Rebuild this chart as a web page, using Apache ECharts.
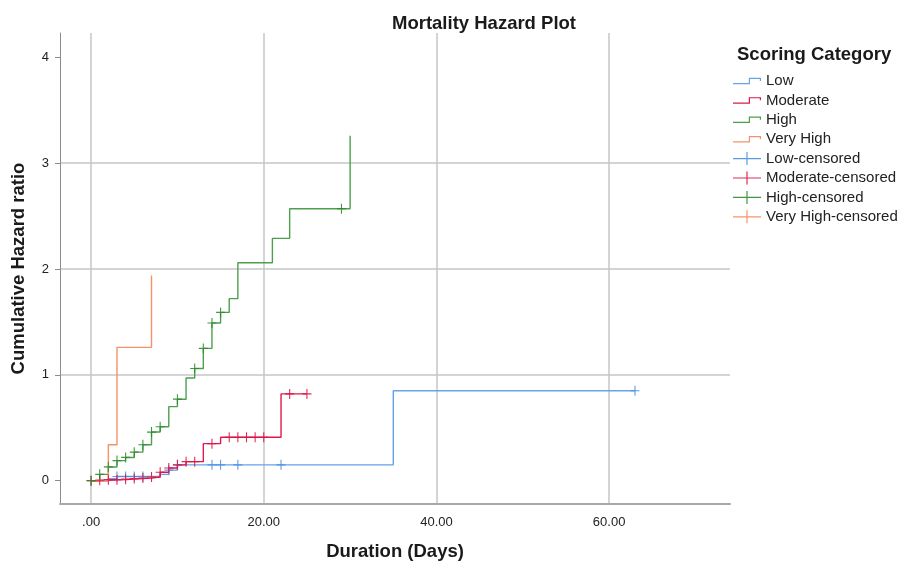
<!DOCTYPE html>
<html><head><meta charset="utf-8">
<script src="https://cdn.jsdelivr.net/npm/echarts@6/dist/echarts.min.js"></script>
<style>html,body{margin:0;padding:0;background:#fff}#c{width:899px;height:563px}</style>
</head><body><div id="c"></div>
<script>
// ---- data ----
const categories = ['Low', 'Moderate', 'High', 'Very High'];
const xTickValues = [0, 20, 40, 60];
const xTickLabels = ['.00', '20.00', '40.00', '60.00'];
const yTickValues = [0, 1, 2, 3, 4];
const yTickLabels = ['0', '1', '2', '3', '4'];

// step curves: [duration, cumulative hazard]
const lowSteps = [[0,0],[2,0.02],[3,0.04],[8,0.06],[9,0.10],[10,0.15],[35,0.85],[63,0.85]];
const moderateSteps = [[0,0],[1,0.005],[2,0.01],[4,0.015],[5,0.02],[6,0.025],[7,0.035],[8,0.08],[9,0.12],[10,0.15],[11,0.18],[13,0.35],[15,0.41],[22,0.82],[25,0.82]];
const highSteps = [[0,0],[1,0.06],[2,0.13],[3,0.19],[4,0.22],[5,0.27],[6,0.34],[7,0.46],[8,0.51],[9,0.70],[10,0.77],[11,0.97],[12,1.06],[13,1.25],[14,1.49],[15,1.59],[16,1.72],[17,2.06],[21,2.29],[23,2.57],[30,3.26]];
const veryHighSteps = [[0,0],[2,0.34],[3,1.26],[7,1.94]];

// censored observations
const lowCensored = [[3,0.04],[4,0.04],[5,0.04],[6,0.04],[9,0.10],[10,0.15],[14,0.15],[15,0.15],[17,0.15],[22,0.15],[63,0.85]];
const moderateCensored = [[0,0],[1,0.005],[2,0.01],[3,0.01],[4,0.015],[5,0.02],[6,0.025],[7,0.035],[8,0.08],[9,0.12],[10,0.15],[11,0.18],[12,0.18],[14,0.35],[16,0.41],[17,0.41],[18,0.41],[19,0.41],[20,0.41],[23,0.82],[25,0.82]];
const highCensored = [[0,0],[1,0.06],[2,0.13],[3,0.19],[4,0.22],[5,0.27],[6,0.34],[7,0.46],[8,0.51],[10,0.77],[12,1.06],[13,1.25],[14,1.49],[15,1.59],[29,2.57]];
const veryHighCensored = [];

// ---- styling ----
const lineColors = ['#67a3e8', '#e0184c', '#4d9f4d', '#f59168'];
const markColors = ['#4a8fe2', '#dc1446', '#2f8a2f', '#f58a5a'];
const FONT = '"Liberation Sans", Arial, sans-serif';

const crossSym = 'path://M0,4.4 L10,4.4 L10,5.6 L0,5.6 Z M4.4,0 L5.6,0 L5.6,10 L4.4,10 Z';
const legendCross = 'path://M0,5.9 L28,5.9 L28,7.1 L0,7.1 Z M13.4,0 L14.6,0 L14.6,13 L13.4,13 Z';
const legendStep = 'path://M0,5.3 L17,5.3 L17,6.5 L0,6.5 Z M15.8,0 L17,0 L17,6.5 L15.8,6.5 Z M15.8,0 L28,0 L28,1.2 L15.8,1.2 Z M26.8,0 L28,0 L28,3.2 L26.8,3.2 Z';

const stepData = [lowSteps, moderateSteps, highSteps, veryHighSteps];
const censData = [lowCensored, moderateCensored, highCensored, veryHighCensored];

const series = [];
categories.forEach((name, i) => {
  series.push({
    name: name, type: 'line', step: 'end', data: stepData[i],
    symbol: 'none', color: lineColors[i],
    lineStyle: { width: 1.4, color: lineColors[i] },
    z: 2, animation: false
  });
});
categories.forEach((name, i) => {
  series.push({
    name: name + '-censored', type: 'scatter', data: censData[i],
    symbol: crossSym, symbolSize: [9, 10], color: markColors[i],
    itemStyle: { color: markColors[i], opacity: 0.9 },
    z: 3, animation: false
  });
});

const legendData = categories.map((n) => ({ name: n, icon: legendStep }))
  .concat(categories.map((n) => ({ name: n + '-censored', icon: legendCross })));

const chart = echarts.init(document.getElementById('c'), null, { renderer: 'canvas' });
chart.setOption({
  backgroundColor: '#ffffff',
  animation: false,
  title: [
    { text: 'Mortality Hazard Plot', left: 387, top: 9,
      textStyle: { fontFamily: FONT, fontSize: 18.5, fontWeight: 'bold', color: '#1a1a1a' } },
    { text: 'Scoring Category', left: 732, top: 40,
      textStyle: { fontFamily: FONT, fontSize: 18.5, fontWeight: 'bold', color: '#1a1a1a' } }
  ],
  legend: {
    orient: 'vertical', left: 728, top: 68.5,
    itemWidth: 28, itemHeight: 13, itemGap: 4.4,
    symbolKeepAspect: true,
    textStyle: { fontFamily: FONT, fontSize: 15, color: '#222' },
    data: legendData
  },
  grid: { left: 60, right: 169, top: 33, bottom: 59, containLabel: false, outerBoundsMode: 'none' },
  xAxis: {
    type: 'value', min: -3.6, max: 74, splitNumber: 4,
    name: 'Duration (Days)', nameLocation: 'middle', nameGap: 38,
    nameTextStyle: { fontFamily: FONT, fontSize: 18.5, fontWeight: 'bold', color: '#1a1a1a' },
    axisLine: { show: true, onZero: false, lineStyle: { color: '#a8a8a8', width: 2 } },
    axisTick: { show: false },
    axisLabel: {
      showMinLabel: false, showMaxLabel: false, margin: 12,
      fontFamily: FONT, fontSize: 13, color: '#222',
      formatter: (v) => { const k = xTickValues.indexOf(v); return k >= 0 ? xTickLabels[k] : ''; }
    },
    splitLine: { show: true, showMinLine: false, showMaxLine: false, lineStyle: { color: '#c6c6c6', width: 1.5 } }
  },
  yAxis: {
    type: 'value', min: -0.22, max: 4.23, splitNumber: 5,
    name: 'Cumulative Hazard ratio', nameLocation: 'middle', nameGap: 32, nameRotate: 90,
    nameTextStyle: { fontFamily: FONT, fontSize: 18.5, fontWeight: 'bold', color: '#1a1a1a' },
    axisLine: { show: true, onZero: false, lineStyle: { color: '#8c8c8c', width: 1 } },
    axisTick: { show: true, length: 5, lineStyle: { color: '#8c8c8c' },
      customValues: yTickValues },
    axisLabel: {
      showMinLabel: false, showMaxLabel: false, margin: 11,
      fontFamily: FONT, fontSize: 13, color: '#222',
      formatter: (v) => { const k = yTickValues.indexOf(v); return k >= 0 ? yTickLabels[k] : ''; }
    },
    splitLine: { show: true, showMinLine: false, showMaxLine: false, lineStyle: { color: '#c6c6c6', width: 1.5 } }
  },
  series: series
});
</script></body></html>
